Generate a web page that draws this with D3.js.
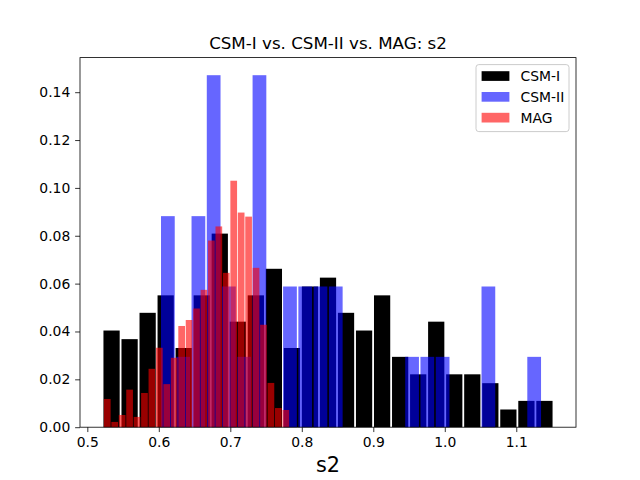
<!DOCTYPE html>
<html>
<head>
<meta charset="utf-8">
<script src="https://cdn.jsdelivr.net/npm/d3@7"></script>
<style>
body { margin: 0; background: #fff; }
text { font-family: "DejaVu Sans", sans-serif; fill: #000; }
</style>
</head>
<body>
<svg id="histChart" width="640" height="480"></svg>
<script>
// histogram data (fraction of samples per bin)
var csm1Range = [0.5213, 1.1520];
var csm1Values = [0.0404, 0.0368, 0.0478, 0.0551, 0.0331, 0.0551, 0.0809, 0.0441, 0.0551, 0.0662,
                  0.0331, 0.0588, 0.0625, 0.0478, 0.0404, 0.0551, 0.0294, 0.0221, 0.0441, 0.0221,
                  0.0221, 0.0184, 0.0074, 0.0110, 0.0110];

var csm2Range = [0.6020, 1.1357];
var csm2Values = [0.0882, 0.0294, 0.0882, 0.1471, 0.0588, 0.0294, 0.1471, 0, 0.0588, 0.0588,
                  0.0588, 0.0588, 0, 0, 0, 0, 0.0294, 0.0294, 0.0294, 0,
                  0, 0.0588, 0, 0, 0.0294];

var magRange = [0.5227, 0.7828];
var magValues = [0.0118, 0.0022, 0.0051, 0.0157, 0.0043, 0.0143, 0.0244, 0.0332, 0.0180, 0.0290,
                 0.0423, 0.0448, 0.0496, 0.0574, 0.0780, 0.0839, 0.0645, 0.1030, 0.0897, 0.0880,
                 0.0666, 0.0428, 0.0185, 0.0080, 0.0072];

var seriesNames = ["CSM-I", "CSM-II", "MAG"];
var xTicks = [0.5, 0.6, 0.7, 0.8, 0.9, 1.0, 1.1];
var yTicks = [0, 0.02, 0.04, 0.06, 0.08, 0.10, 0.12, 0.14];

var series = [
    {name: seriesNames[0], range: csm1Range, values: csm1Values, color: "#000000", opacity: 1},
    {name: seriesNames[1], range: csm2Range, values: csm2Values, color: "#0000ff", opacity: 0.6},
    {name: seriesNames[2], range: magRange, values: magValues, color: "#ff0000", opacity: 0.6}
];

var chart = d3.select("#histChart");
var margin = {top: 57.6, right: 64, bottom: 52.8, left: 80},
    width = +chart.attr("width") - margin.left - margin.right,
    height = +chart.attr("height") - margin.top - margin.bottom;

var svg = chart.append("g")
    .attr("transform", "translate(" + margin.left + "," + margin.top + ")");

// scales with matplotlib-like 5% margins on x
var xMin = d3.min(series, function(s) { return s.range[0]; }),
    xMax = d3.max(series, function(s) { return s.range[1]; }),
    xPad = (xMax - xMin) * 0.05;
var x = d3.scaleLinear()
    .domain([xMin - xPad, xMax + xPad])
    .range([0, width]);

var yMax = d3.max(series, function(s) { return d3.max(s.values); });
var y = d3.scaleLinear()
    .domain([0, yMax * 1.05])
    .range([height, 0]);

// bars, rwidth 0.9
var rwidth = 0.9;
series.forEach(function(s) {
    var n = s.values.length,
        binW = (s.range[1] - s.range[0]) / n;
    var bins = s.values.map(function(v, i) {
        return {x0: s.range[0] + i * binW, x1: s.range[0] + (i + 1) * binW, value: v};
    }).filter(function(b) { return b.value > 0; });

    svg.append("g")
        .selectAll("rect")
        .data(bins)
        .enter()
        .append("rect")
        .attr("x", function(d) { return x(d.x0 + binW * (1 - rwidth) / 2); })
        .attr("width", function(d) { return x(d.x0 + binW * (1 + rwidth) / 2) - x(d.x0 + binW * (1 - rwidth) / 2); })
        .attr("y", function(d) { return y(d.value); })
        .attr("height", function(d) { return y(0) - y(d.value); })
        .attr("fill", s.color)
        .attr("fill-opacity", s.opacity);
});

// axes
var xAxis = svg.append("g")
    .attr("transform", "translate(0," + height + ")")
    .call(d3.axisBottom(x).tickValues(xTicks).tickFormat(d3.format(".1f"))
        .tickSize(4.86).tickPadding(4.86).tickSizeOuter(0));

var yAxis = svg.append("g")
    .call(d3.axisLeft(y).tickValues(yTicks).tickFormat(d3.format(".2f"))
        .tickSize(4.86).tickPadding(4.86).tickSizeOuter(0));

[xAxis, yAxis].forEach(function(a) {
    a.select(".domain").remove();
    a.selectAll(".tick line").attr("stroke", "#000").attr("stroke-width", 0.8);
    a.selectAll(".tick text")
        .style("font-family", "'DejaVu Sans', sans-serif")
        .style("font-size", "13.9px")
        .attr("fill", "#000");
});

// frame
svg.append("rect")
    .attr("width", width)
    .attr("height", height)
    .attr("fill", "none")
    .attr("stroke", "#000")
    .attr("stroke-width", 0.8);

// title and x label
svg.append("text")
    .attr("x", width / 2)
    .attr("y", -8.5)
    .attr("text-anchor", "middle")
    .style("font-size", "16.7px")
    .text("CSM-I vs. CSM-II vs. MAG: s2");

svg.append("text")
    .attr("x", width / 2)
    .attr("y", height + 45)
    .attr("text-anchor", "middle")
    .style("font-size", "20.8px")
    .text("s2");

// legend
var legend = svg.append("g")
    .attr("transform", "translate(" + (width - 100) + ",7)");

legend.append("rect")
    .attr("width", 93)
    .attr("height", 67)
    .attr("rx", 2.8)
    .attr("fill", "#fff")
    .attr("fill-opacity", 0.8)
    .attr("stroke", "#cccccc")
    .attr("stroke-width", 1);

series.forEach(function(s, i) {
    var row = legend.append("g")
        .attr("transform", "translate(5.6," + (11.5 + i * 20.8) + ")");
    row.append("rect")
        .attr("y", -4.9)
        .attr("width", 27.8)
        .attr("height", 9.7)
        .attr("fill", s.color)
        .attr("fill-opacity", s.opacity);
    row.append("text")
        .attr("x", 39)
        .attr("dy", "0.35em")
        .style("font-size", "13.9px")
        .text(s.name);
});
</script>
</body>
</html>
